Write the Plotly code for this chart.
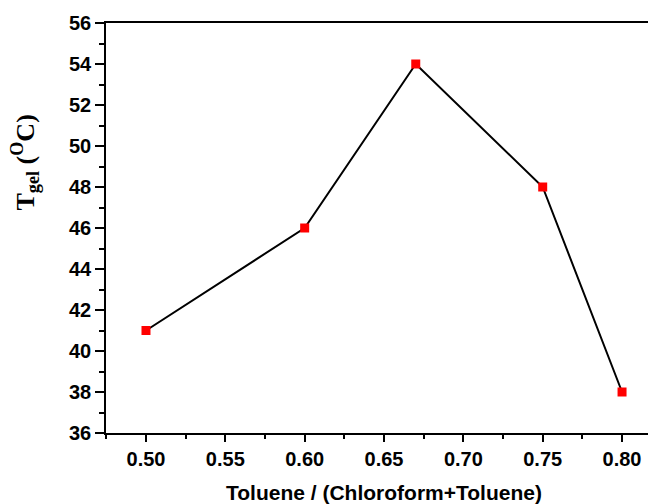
import plotly.graph_objects as go

ratio = [0.50, 0.60, 0.67, 0.75, 0.80]
tgel = [41, 46, 54, 48, 38]
x_ticks = [0.50, 0.55, 0.60, 0.65, 0.70, 0.75, 0.80]
x_ticklabels = ["0.50", "0.55", "0.60", "0.65", "0.70", "0.75", "0.80"]
y_ticks = [36, 38, 40, 42, 44, 46, 48, 50, 52, 54, 56]

fig = go.Figure()
fig.add_trace(go.Scatter(
    x=ratio, y=tgel, mode="lines+markers",
    line=dict(color="black", width=2),
    marker=dict(symbol="square", size=9, color="#ff0000", line=dict(width=0)),
    showlegend=False,
))

tickfont = dict(family="Liberation Sans, Arial", size=20, color="black", weight="bold")

# page body has an 8px margin, so the figure is sized 8px smaller to fill 656x504
fig.update_layout(
    width=648, height=496,
    margin=dict(l=98, r=0, t=15, b=71),
    paper_bgcolor="white", plot_bgcolor="white",
    xaxis=dict(
        range=[0.4748, 0.8214], tickvals=x_ticks, ticktext=x_ticklabels,
        showgrid=False, zeroline=False, showline=True, linecolor="black", linewidth=1.5,
        mirror=True, ticks="outside", ticklen=7, tickwidth=1.5, tickcolor="black",
        tickfont=tickfont,
        minor=dict(dtick=0.025, tick0=0.475, ticks="outside", ticklen=4, tickwidth=1.5, tickcolor="black", showgrid=False),
    ),
    yaxis=dict(
        range=[36, 56], tickvals=y_ticks,
        showgrid=False, zeroline=False, showline=True, linecolor="black", linewidth=1.5,
        ticks="outside", ticklen=9, tickwidth=1.5, tickcolor="black",
        tickfont=tickfont,
        minor=dict(dtick=1, tick0=36, ticks="outside", ticklen=5, tickwidth=1.5, tickcolor="black", showgrid=False),
    ),
    annotations=[
        dict(text="Toluene / (Chloroform+Toluene)", xref="paper", yref="paper",
             x=0.505, y=-0.144, xanchor="center", yanchor="middle", showarrow=False,
             font=dict(family="Liberation Sans, Arial", size=21, color="black", weight="bold")),
        dict(text="T<sub>gel</sub> (<sup>O</sup>C)", xref="paper", yref="paper",
             x=-0.147, y=0.66, xanchor="center", yanchor="middle", showarrow=False,
             textangle=-90,
             font=dict(family="Liberation Serif, Times New Roman", size=26, color="black", weight="bold")),
    ],
)

fig.write_html("out.html")
